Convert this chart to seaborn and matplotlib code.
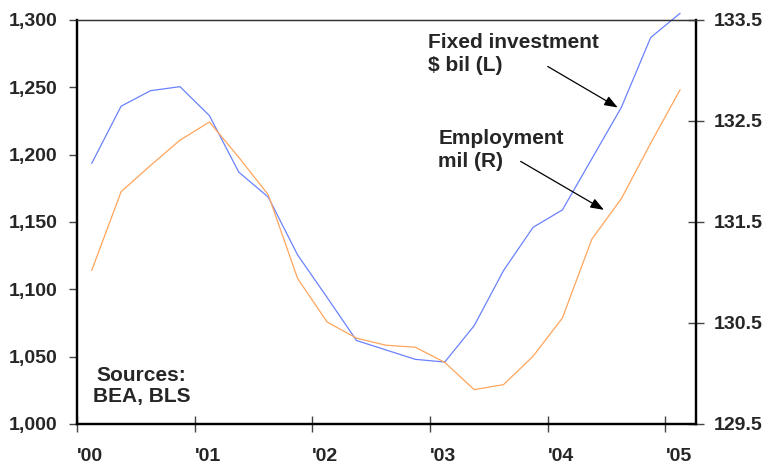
import pandas as pd
import numpy as np
import matplotlib
matplotlib.use("Agg")
import matplotlib.pyplot as plt
import seaborn as sns

# quarterly data, 2000Q1 - 2005Q1
quarters = ["2000Q1", "2000Q2", "2000Q3", "2000Q4",
            "2001Q1", "2001Q2", "2001Q3", "2001Q4",
            "2002Q1", "2002Q2", "2002Q3", "2002Q4",
            "2003Q1", "2003Q2", "2003Q3", "2003Q4",
            "2004Q1", "2004Q2", "2004Q3", "2004Q4",
            "2005Q1"]
fixed_investment = [1193.5, 1236, 1247.5, 1250.5,
                    1229, 1187, 1168.5, 1125.5,
                    1094, 1062, 1055, 1048,
                    1046, 1073, 1114, 1146,
                    1159, 1197, 1235, 1287,
                    1305]
employment = [131.02, 131.80, 132.06, 132.31,
              132.49, 132.14, 131.77, 130.94,
              130.51, 130.35, 130.28, 130.26,
              130.11, 129.84, 129.89, 130.17,
              130.55, 131.33, 131.73, 132.28,
              132.81]
year_ticks = [2000, 2001, 2002, 2003, 2004, 2005]
year_labels = ["'00", "'01", "'02", "'03", "'04", "'05"]
left_ticks = [1000, 1050, 1100, 1150, 1200, 1250, 1300]
right_ticks = [129.5, 130.5, 131.5, 132.5, 133.5]

# mid-quarter positions on a fractional-year axis
per = pd.PeriodIndex(quarters, freq="Q")
df = pd.DataFrame({
    "t": per.year + (per.quarter - 0.5) / 4,
    "inv": fixed_investment,
    "emp": employment,
})

sns.set_style("white")
plt.rcParams["font.family"] = ["Liberation Sans", "DejaVu Sans"]
plt.rcParams["font.weight"] = "bold"

fig = plt.figure(figsize=(7.63, 4.65), dpi=100)
ax = fig.add_axes([0.1009, 0.0882, 0.8113, 0.8688])
ax2 = ax.twinx()

sns.lineplot(data=df, x="t", y="inv", ax=ax, color="#6a82ff", linewidth=0.9)
sns.lineplot(data=df, x="t", y="emp", ax=ax2, color="#ffa55c", linewidth=0.9)

ax.set_xlim(2000, 2005.26)
ax.set_ylim(1000, 1300)
ax2.set_ylim(129.5, 133.5)
for a in (ax, ax2):
    a.set_xlabel("")
    a.set_ylabel("")
    for ln in a.get_lines():
        ln.set_clip_on(False)

ax.set_xticks(year_ticks)
ax.set_xticklabels(year_labels, fontsize=14, fontweight="bold", ha="left")
ax.set_yticks(left_ticks)
ax.set_yticklabels([f"{v:,}" for v in left_ticks], fontsize=14, fontweight="bold")
ax2.set_yticks(right_ticks)
ax2.set_yticklabels([f"{v:.1f}" for v in right_ticks], fontsize=14, fontweight="bold")

ax.tick_params(axis="x", direction="inout", length=12, width=1, color="#444444", pad=11, bottom=True)
ax.tick_params(axis="y", direction="out", length=6, width=1, color="#444444", pad=8, left=True)
ax2.tick_params(axis="y", direction="inout", length=12, width=1, color="#444444", pad=7, right=True)

for a in (ax, ax2):
    for side in ["left", "right", "bottom"]:
        a.spines[side].set_color("black")
        a.spines[side].set_linewidth(1.6)
    a.spines["top"].set_color("#333333")
    a.spines["top"].set_linewidth(0.9)

# annotations
ax.annotate("Fixed investment\n$ bil (L)", xy=(2004.595, 1235),
            xytext=(0.567, 0.968), textcoords="axes fraction",
            fontsize=15, fontweight="bold", ha="left", va="top",
            linespacing=1.25)
ax.annotate("", xy=(2004.595, 1235), xytext=(2004.0, 1265.5),
            arrowprops=dict(arrowstyle="-|>,head_length=0.8,head_width=0.3",
                            color="black", lw=0.9, shrinkA=0, shrinkB=0))
ax2.annotate("Employment\nmil (R)", xy=(2004.477, 131.62),
             xytext=(0.5835, 0.73), textcoords="axes fraction",
             fontsize=15, fontweight="bold", ha="left", va="top",
             linespacing=1.25)
ax2.annotate("", xy=(2004.477, 131.62), xytext=(2003.77, 132.1),
             arrowprops=dict(arrowstyle="-|>,head_length=0.8,head_width=0.3",
                             color="black", lw=0.9, shrinkA=0, shrinkB=0))
ax.text(0.104, 0.045, "Sources:\nBEA, BLS", transform=ax.transAxes,
        fontsize=15, fontweight="bold", ha="center", va="bottom",
        multialignment="center", linespacing=1.15)

plt.savefig("out.png", dpi=100)
